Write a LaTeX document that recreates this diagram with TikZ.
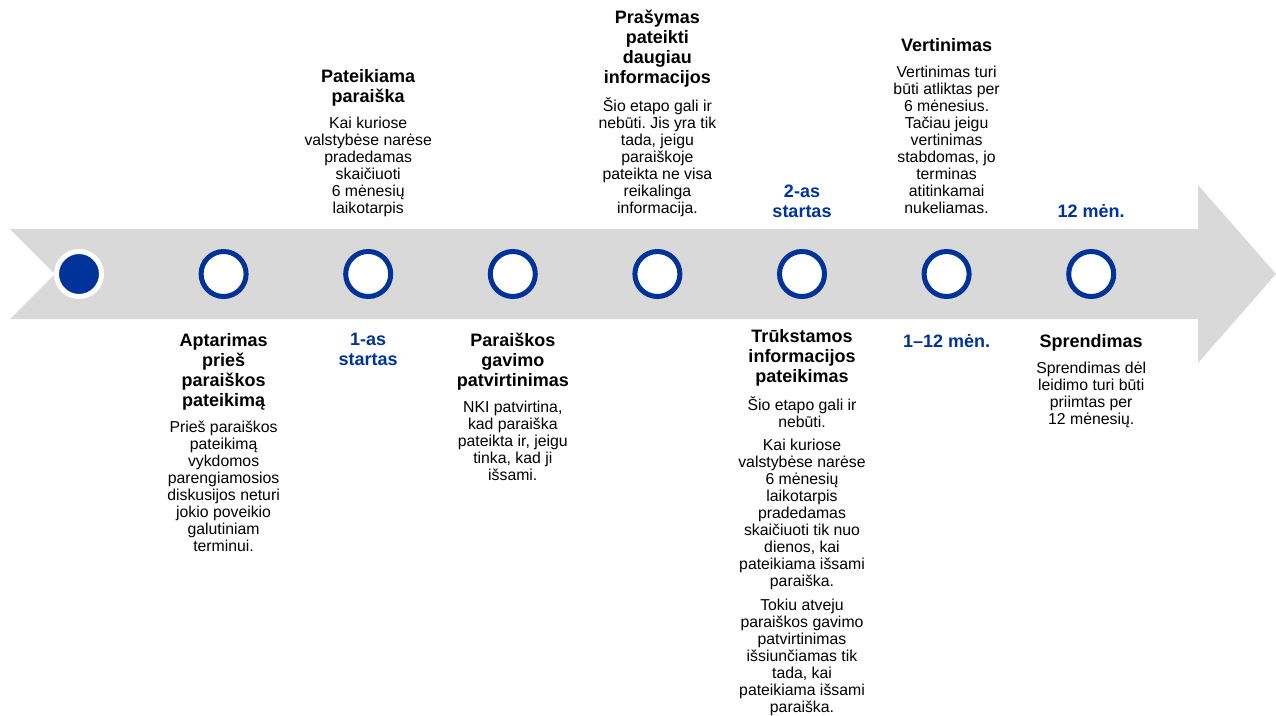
\documentclass[tikz,border=0pt]{standalone}
\usepackage{fontspec}
\setmainfont{Liberation Sans}
\usetikzlibrary{positioning}
\frenchspacing

\definecolor{eublue}{RGB}{0,51,153}
\definecolor{bandgrey}{RGB}{217,217,217}
\newcommand{\headfont}{\fontsize{18}{20}\selectfont\bfseries}
\newcommand{\bodyfont}{\fontsize{15.8}{17}\selectfont}

\begin{document}
\begin{tikzpicture}
            [x=1pt, y=-1pt,
            node distance=8pt,
            stage/.style={
                circle,
                draw=eublue,
                fill=white,
                line width=5pt,
                minimum size=45pt,
                inner sep=0pt
            },
            startdot/.style={stage, draw=white, fill=eublue},
            headline/.style={
                align=center,
                inner sep=0pt,
                font=\headfont,
                execute at begin node=\strut,
                execute at end node=\strut
            },
            bodytext/.style={headline, font=\bodyfont},
            milestone/.style={headline, text=eublue}
            ]

            \useasboundingbox (0,0) rectangle (1276,715);

            % Grey timeline arrow
            \fill[bandgrey] (10,229) -- (1198,229) -- (1198,185) -- (1276,274)
                -- (1198,363) -- (1198,319) -- (10,319) -- (55,274) -- cycle;

            \node[startdot] (c1) at (79,274) {};
            \foreach \i in {2,...,8}{
                \node[stage] (c\i) at ({79+144.6*(\i-1)},274) {};
            }

            % Texts above the arrow
            \node[bodytext, above=30pt of c3] (b3) {Kai kuriose\\valstybėse narėse\\pradedamas\\skaičiuoti\\6 mėnesių\\laikotarpis};
            \node[headline, above=of b3] (t3) {Pateikiama\\paraiška};

            \node[bodytext, above=30pt of c5] (b5) {Šio etapo gali ir\\nebūti. Jis yra tik\\tada, jeigu\\paraiškoje\\pateikta ne visa\\reikalinga\\informacija.};
            \node[headline, above=of b5] (t5) {Prašymas\\pateikti\\daugiau\\informacijos};

            \node[milestone, above=25pt of c6] (m6) {2-as\\startas};

            \node[bodytext, above=30pt of c7] (b7) {Vertinimas turi\\būti atliktas per\\6 mėnesius.\\Tačiau jeigu\\vertinimas\\stabdomas, jo\\terminas\\atitinkamai\\nukeliamas.};
            \node[headline, above=of b7] (t7) {Vertinimas};

            \node[milestone, above=25pt of c8] (m8) {12 mėn.};

            % Texts below the arrow
            \node[headline, below=34pt of c2] (t2) {Aptarimas\\prieš\\paraiškos\\pateikimą};
            \node[bodytext, below=of t2] (b2) {Prieš paraiškos\\pateikimą\\vykdomos\\parengiamosios\\diskusijos neturi\\jokio poveikio\\galutiniam\\terminui.};

            \node[milestone, below=34pt of c3] (m3) {1-as\\startas};

            \node[headline, below=34pt of c4] (t4) {Paraiškos\\gavimo\\patvirtinimas};
            \node[bodytext, below=of t4] (b4) {NKI patvirtina,\\kad paraiška\\pateikta ir, jeigu\\tinka, kad ji\\išsami.};

            \node[headline, below=30pt of c6] (t6) {Trūkstamos\\informacijos\\pateikimas};
            \node[bodytext, below=of t6] (b6) {Šio etapo gali ir\\nebūti.\\[6.5pt]Kai kuriose\\valstybėse narėse\\6 mėnesių\\laikotarpis\\pradedamas\\skaičiuoti tik nuo\\dienos, kai\\pateikiama išsami\\paraiška.\\[6.5pt]Tokiu atveju\\paraiškos gavimo\\patvirtinimas\\išsiunčiamas tik\\tada, kai\\pateikiama išsami\\paraiška.};

            \node[milestone, below=34pt of c7] (m7) {1–12 mėn.};

            \node[headline, below=34pt of c8] (t8) {Sprendimas};
            \node[bodytext, below=of t8] (b8) {Sprendimas dėl\\leidimo turi būti\\priimtas per\\12 mėnesių.};
\end{tikzpicture}
\end{document}
